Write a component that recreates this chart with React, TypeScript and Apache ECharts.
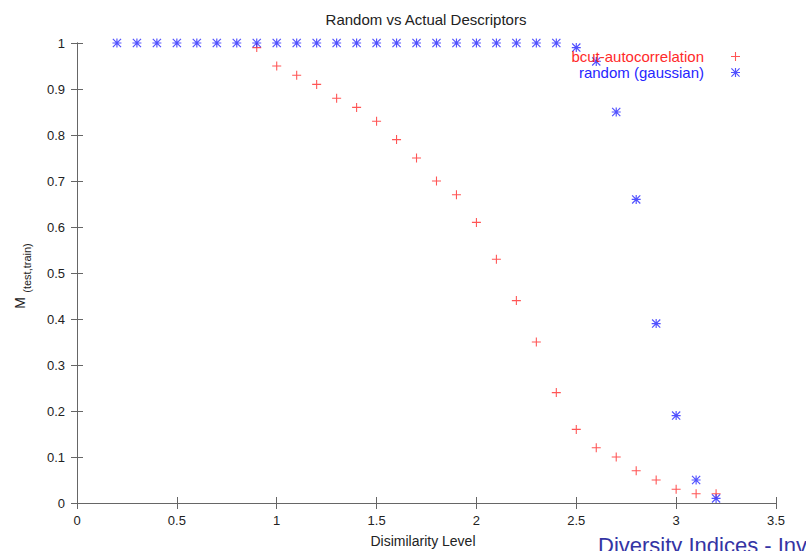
import React, { useEffect, useRef } from "react";
import * as echarts from "echarts";

const redX = [0.9, 1.0, 1.1, 1.2, 1.3, 1.4, 1.5, 1.6, 1.7, 1.8, 1.9, 2.0, 2.1, 2.2, 2.3, 2.4, 2.5, 2.6, 2.7, 2.8, 2.9, 3.0, 3.1, 3.2];
const redY = [0.99, 0.95, 0.93, 0.91, 0.88, 0.86, 0.83, 0.79, 0.75, 0.70, 0.67, 0.61, 0.53, 0.44, 0.35, 0.24, 0.16, 0.12, 0.10, 0.07, 0.05, 0.03, 0.02, 0.02];

const blueX = [0.2, 0.3, 0.4, 0.5, 0.6, 0.7, 0.8, 0.9, 1.0, 1.1, 1.2, 1.3, 1.4, 1.5, 1.6, 1.7, 1.8, 1.9, 2.0, 2.1, 2.2, 2.3, 2.4, 2.5, 2.6, 2.7, 2.8, 2.9, 3.0, 3.1, 3.2];
const blueY = [1, 1, 1, 1, 1, 1, 1, 1, 1, 1, 1, 1, 1, 1, 1, 1, 1, 1, 1, 1, 1, 1, 1, 0.99, 0.96, 0.85, 0.66, 0.39, 0.19, 0.05, 0.01];

const seriesNames = ["bcut-autocorrelation", "random (gaussian)"];
const titleText = "Random vs Actual Descriptors";
const xAxisTitle = "Disimilarity Level";
const footerText = "Diversity Indices - Inv";

const PLUS = "path://M4.4,0H5.6V10H4.4Z M0,4.4H10V5.6H0Z";
const STAR =
  "path://M4.35,0H5.65V10H4.35Z M0,4.35H10V5.65H0Z M0.92,0L10,9.08L9.08,10L0,0.92Z M9.08,0L10,0.92L0.92,10L0,9.08Z";

const RED = "#ff2a2a";
const BLUE = "#2626ff";
const FONT = "'Liberation Sans', Arial, Helvetica, sans-serif";
const AXIS = "#666666";

export default function App() {
  const ref = useRef<HTMLDivElement>(null);
  useEffect(() => {
    if (!ref.current) return;
    const chart = echarts.init(ref.current, null, { renderer: "svg" });
    const mirrorAxis = {
      axisLine: { show: true, lineStyle: { color: AXIS, width: 1 } },
      axisTick: { show: true, inside: true, length: 6, lineStyle: { color: AXIS } },
      axisLabel: { show: false },
      splitLine: { show: false },
    };
    chart.setOption({
      animation: false,
      backgroundColor: "#ffffff",
      textStyle: { fontFamily: FONT },
      grid: { left: 77, right: 30, top: 43, bottom: 48, containLabel: false },
      xAxis: [
        {
          type: "value",
          min: 0,
          max: 3.5,
          interval: 0.5,
          position: "bottom",
          axisLine: { show: true, onZero: false, lineStyle: { color: AXIS, width: 1 } },
          axisTick: { show: true, inside: true, length: 6, lineStyle: { color: AXIS } },
          axisLabel: { color: "#222", fontSize: 13, margin: 11, fontFamily: FONT },
          splitLine: { show: false },
        },
        { type: "value", min: 0, max: 3.5, interval: 0.5, position: "top", ...mirrorAxis },
      ],
      yAxis: [
        {
          type: "value",
          min: 0,
          max: 1,
          interval: 0.1,
          position: "left",
          axisLine: { show: true, onZero: false, lineStyle: { color: AXIS, width: 1 } },
          axisTick: { show: true, inside: true, length: 6, lineStyle: { color: AXIS } },
          axisLabel: { color: "#222", fontSize: 13, margin: 12, fontFamily: FONT },
          splitLine: { show: false },
        },
        { type: "value", min: 0, max: 1, interval: 0.1, position: "right", ...mirrorAxis },
      ],
      legend: [
        {
          data: [{ name: seriesNames[0], icon: PLUS }],
          orient: "vertical",
          align: "right",
          right: 66,
          top: 49,
          padding: 0,
          itemWidth: 9,
          itemHeight: 9,
          selectedMode: false,
          textStyle: { color: RED, fontSize: 15, fontFamily: FONT, padding: [0, 22, 0, 0] },
        },
        {
          data: [{ name: seriesNames[1], icon: STAR }],
          orient: "vertical",
          align: "right",
          right: 66,
          top: 65,
          padding: 0,
          itemWidth: 9,
          itemHeight: 9,
          selectedMode: false,
          textStyle: { color: BLUE, fontSize: 15, fontFamily: FONT, padding: [0, 22, 0, 0] },
        },
      ],
      series: [
        {
          name: seriesNames[0],
          type: "scatter",
          symbol: PLUS,
          symbolSize: 9,
          itemStyle: { color: RED },
          data: redX.map((x, i) => [x, redY[i]]),
          z: 2,
        },
        {
          name: seriesNames[1],
          type: "scatter",
          symbol: STAR,
          symbolSize: 9,
          itemStyle: { color: BLUE },
          data: blueX.map((x, i) => [x, blueY[i]]),
          z: 3,
        },
      ],
      graphic: [
        {
          type: "text",
          x: 426,
          y: 19,
          style: {
            text: titleText,
            fontSize: 15,
            fontFamily: FONT,
            fill: "#222",
            textAlign: "center",
            textVerticalAlign: "middle",
            align: "center",
            verticalAlign: "middle",
          },
        },
        {
          type: "text",
          x: 423,
          y: 541,
          style: {
            text: xAxisTitle,
            fontSize: 14,
            fontFamily: FONT,
            fill: "#222",
            textAlign: "center",
            textVerticalAlign: "middle",
            align: "center",
            verticalAlign: "middle",
          },
        },
        {
          type: "text",
          x: 20,
          y: 303,
          rotation: Math.PI / 2,
          style: {
            text: "M",
            fontSize: 14,
            fontFamily: FONT,
            fill: "#222",
            textAlign: "center",
            textVerticalAlign: "middle",
            align: "center",
            verticalAlign: "middle",
          },
        },
        {
          type: "text",
          x: 27,
          y: 268,
          rotation: Math.PI / 2,
          style: {
            text: "(test,train)",
            fontSize: 11,
            fontFamily: FONT,
            fill: "#222",
            textAlign: "center",
            textVerticalAlign: "middle",
            align: "center",
            verticalAlign: "middle",
          },
        },
        {
          type: "text",
          x: 598,
          y: 545,
          style: {
            text: footerText,
            fontSize: 22,
            fontFamily: FONT,
            fill: "#3434a4",
            textAlign: "left",
            textVerticalAlign: "middle",
            align: "left",
            verticalAlign: "middle",
          },
        },
      ],
    });
    return () => chart.dispose();
  }, []);
  return (
    <div
      ref={ref}
      style={{ position: "absolute", left: 0, top: 0, width: 806, height: 551, background: "#fff" }}
    />
  );
}
